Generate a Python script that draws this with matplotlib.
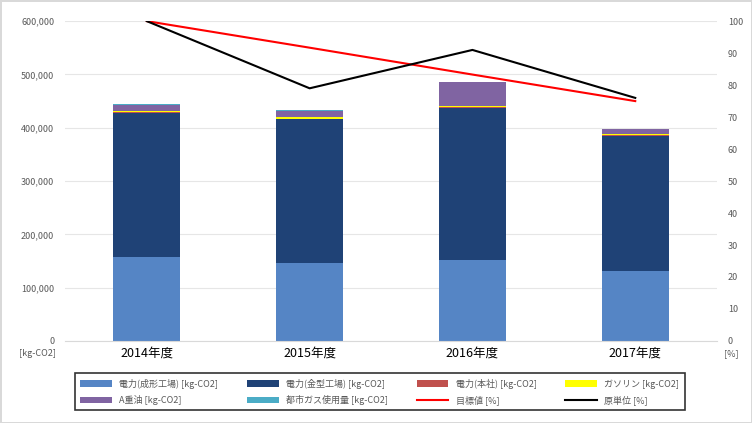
import numpy as np
import matplotlib.pyplot as plt
from matplotlib.ticker import FuncFormatter

plt.rcParams['font.family'] = ['Noto Sans CJK JP', 'DejaVu Sans']

# data
years = ['2014年度', '2015年度', '2016年度', '2017年度']
seikei = [157000, 146000, 152000, 131000]      # 電力(成形工場)
kanagata = [271000, 270000, 285000, 254000]    # 電力(金型工場)
honsha = [1000, 1000, 1000, 1000]              # 電力(本社)
gasoline = [3000, 3000, 3000, 3000]            # ガソリン
a_oil = [10000, 12000, 44000, 8000]            # A重油
city_gas = [2000, 500, 500, 500]               # 都市ガス使用量
target = [100, 91.7, 83.3, 75]                 # 目標値 [%]
unit = [100, 79, 91, 76]                       # 原単位 [%]

series = [
    ('電力(成形工場) [kg-CO2]', seikei, '#5585c5'),
    ('電力(金型工場) [kg-CO2]', kanagata, '#1f4276'),
    ('電力(本社) [kg-CO2]', honsha, '#c0504d'),
    ('ガソリン [kg-CO2]', gasoline, '#ffff00'),
    ('A重油 [kg-CO2]', a_oil, '#8064a2'),
    ('都市ガス使用量 [kg-CO2]', city_gas, '#4bacc6'),
]

fig = plt.figure(figsize=(7.52, 4.23), dpi=100)
fig.patch.set_facecolor('white')
fig.patch.set_edgecolor('#d9d9d9')
fig.patch.set_linewidth(2)
ax = fig.add_axes([0.087, 0.194, 0.866, 0.756])

x = np.arange(len(years))
bottom = np.zeros(len(years))
handles = {}
for name, vals, col in series:
    b = ax.bar(x, vals, 0.41, bottom=bottom, color=col, label=name, zorder=2)
    handles[name] = b
    bottom += np.array(vals)

ax.set_xlim(-0.5, 3.5)
ax.set_ylim(0, 600000)
ax.set_yticks(np.arange(0, 600001, 100000))
ax.yaxis.set_major_formatter(FuncFormatter(lambda v, p: f'{int(v):,}'))
ax.grid(axis='y', color='#e6e6e6', linewidth=0.8, zorder=0)
ax.set_axisbelow(True)
ax.set_xticks(x)
ax.set_xticklabels(years, fontsize=9)
ax.tick_params(axis='y', labelsize=6.5, colors='#595959', length=0, pad=8)
ax.tick_params(axis='x', length=0, pad=4)
for s in ['top', 'right', 'left']:
    ax.spines[s].set_visible(False)
ax.spines['bottom'].set_color('#d9d9d9')

ax2 = ax.twinx()
ax2.set_ylim(0, 100)
ax2.set_yticks(np.arange(0, 101, 10))
ax2.tick_params(axis='y', labelsize=6.5, colors='#595959', length=0, pad=8)
for s in ax2.spines.values():
    s.set_visible(False)
l1, = ax2.plot(x, target, color='#ff0000', linewidth=1.5, label='目標値 [%]')
l2, = ax2.plot(x, unit, color='black', linewidth=1.5, label='原単位 [%]')

fig.text(0.05, 0.158, '[kg-CO2]', fontsize=6.5, color='#595959', ha='center')
fig.text(0.972, 0.158, '[%]', fontsize=6.5, color='#595959', ha='center')

names = [s[0] for s in series]
order = [handles[names[0]], handles[names[4]], handles[names[1]], handles[names[5]],
         handles[names[2]], l1, handles[names[3]], l2]
labels = [names[0], names[4], names[1], names[5], names[2], '目標値 [%]', names[3], '原単位 [%]']
leg = fig.legend(order, labels, ncol=4, loc='center', bbox_to_anchor=(0.505, 0.074),
                 fontsize=6.5, frameon=True, fancybox=False, handlelength=3.5,
                 columnspacing=3.2, labelspacing=0.7, borderpad=0.6)
leg.get_frame().set_edgecolor('black')
leg.get_frame().set_linewidth(1.2)
for t in leg.get_texts():
    t.set_color('#595959')

fig.savefig('out.png', dpi=100)
